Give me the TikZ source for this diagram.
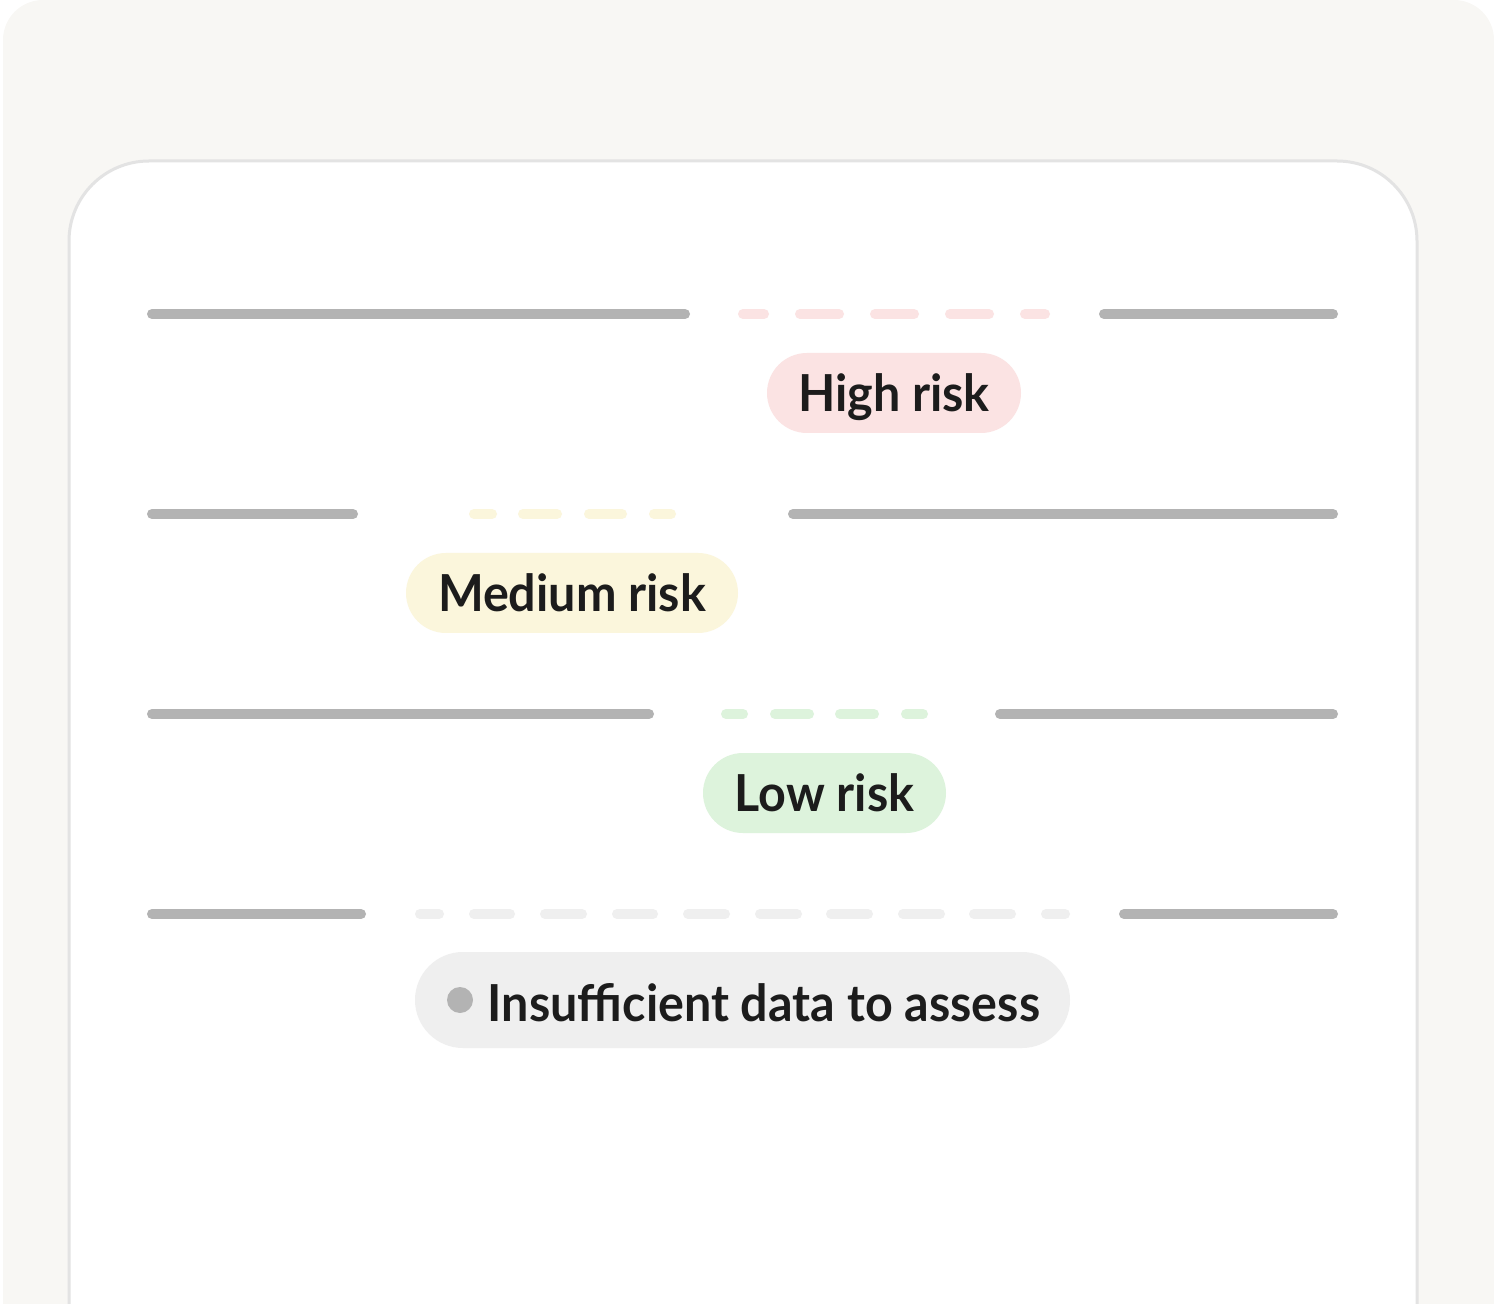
\documentclass[tikz,border=0pt]{standalone}
\usepackage{fontspec}
\setmainfont{Lato}
\newfontfamily\pillfont{Lato}[FakeStretch=0.95]
\usetikzlibrary{positioning}

\definecolor{pagebg}{HTML}{F8F7F4}
\definecolor{cardline}{HTML}{E3E3E3}
\definecolor{bargray}{HTML}{B3B3B3}
\definecolor{ink}{HTML}{1C1C1C}
\definecolor{highfill}{HTML}{FBE3E3}
\definecolor{medfill}{HTML}{FBF6DC}
\definecolor{lowfill}{HTML}{DDF3DC}
\definecolor{nonefill}{HTML}{EFEFEF}

\tikzset{
  bar/.style={line width=5pt, line cap=round, bargray},
  dashbar/.style={line width=5pt, line cap=round},
  pill/.style={rectangle, rounded corners=20pt, minimum height=40pt,
    inner sep=0pt, text=ink, text height=18.3pt, text depth=0pt,
    font=\pillfont\fontsize{25.5}{30}\selectfont\bfseries},
}

\begin{document}
\begin{tikzpicture}[x=0.5pt, y=-0.5pt]
        \useasboundingbox (0,0) rectangle (1494,1304);
        \clip (0,0) rectangle (1494,1304);

        % background and card
        \fill[pagebg, rounded corners=20pt] (3,0) rectangle (1494,1400);
        \draw[fill=white, draw=cardline, line width=1.5pt, rounded corners=40pt]
          (69,161) rectangle (1417,1400);

        % row 1
        \draw[bar] (152,314) -- (685,314);
        \draw[bar] (1104,314) -- (1333,314);
        \foreach \a/\b in {743/764, 800/839, 875/914, 950/989, 1025/1045}
          \draw[dashbar, highfill] (\a,314) -- (\b,314);

        % row 2
        \draw[bar] (152,514) -- (353,514);
        \draw[bar] (793,514) -- (1333,514);
        \foreach \a/\b in {474/492, 523/557, 589/622, 654/671}
          \draw[dashbar, medfill] (\a,514) -- (\b,514);

        % row 3
        \draw[bar] (152,714) -- (649,714);
        \draw[bar] (1000,714) -- (1333,714);
        \foreach \a/\b in {726/743, 775/809, 840/874, 906/923}
          \draw[dashbar, lowfill] (\a,714) -- (\b,714);

        % row 4
        \draw[bar] (152,914) -- (361,914);
        \draw[bar] (1124,914) -- (1333,914);
        \foreach \a/\b in {420/439, 474/510, 545/582, 617/653, 688/725,
                           760/797, 831/868, 903/940, 974/1011, 1046/1065}
          \draw[dashbar, nonefill] (\a,914) -- (\b,914);

        % risk labels
        \node[pill, fill=highfill, minimum width=127pt] (high) at (894,393) {High risk};
        \node[pill, fill=medfill, minimum width=166pt] (medium) at (572,593) {Medium risk};
        \node[pill, fill=lowfill, minimum width=121.5pt] (low) at (824.5,793) {Low risk};
        \node[pill, fill=nonefill, rounded corners=24pt, minimum height=48pt,
              minimum width=327.5pt] (none) at (742.5,1000) {};
        \node[pill] (nonetext) at (764,1003) {Insufficient data to assess};
        \node[circle, fill=bargray, minimum size=13pt, inner sep=0pt] (nonedot) at (460,1000) {};
      \end{tikzpicture}
\end{document}
